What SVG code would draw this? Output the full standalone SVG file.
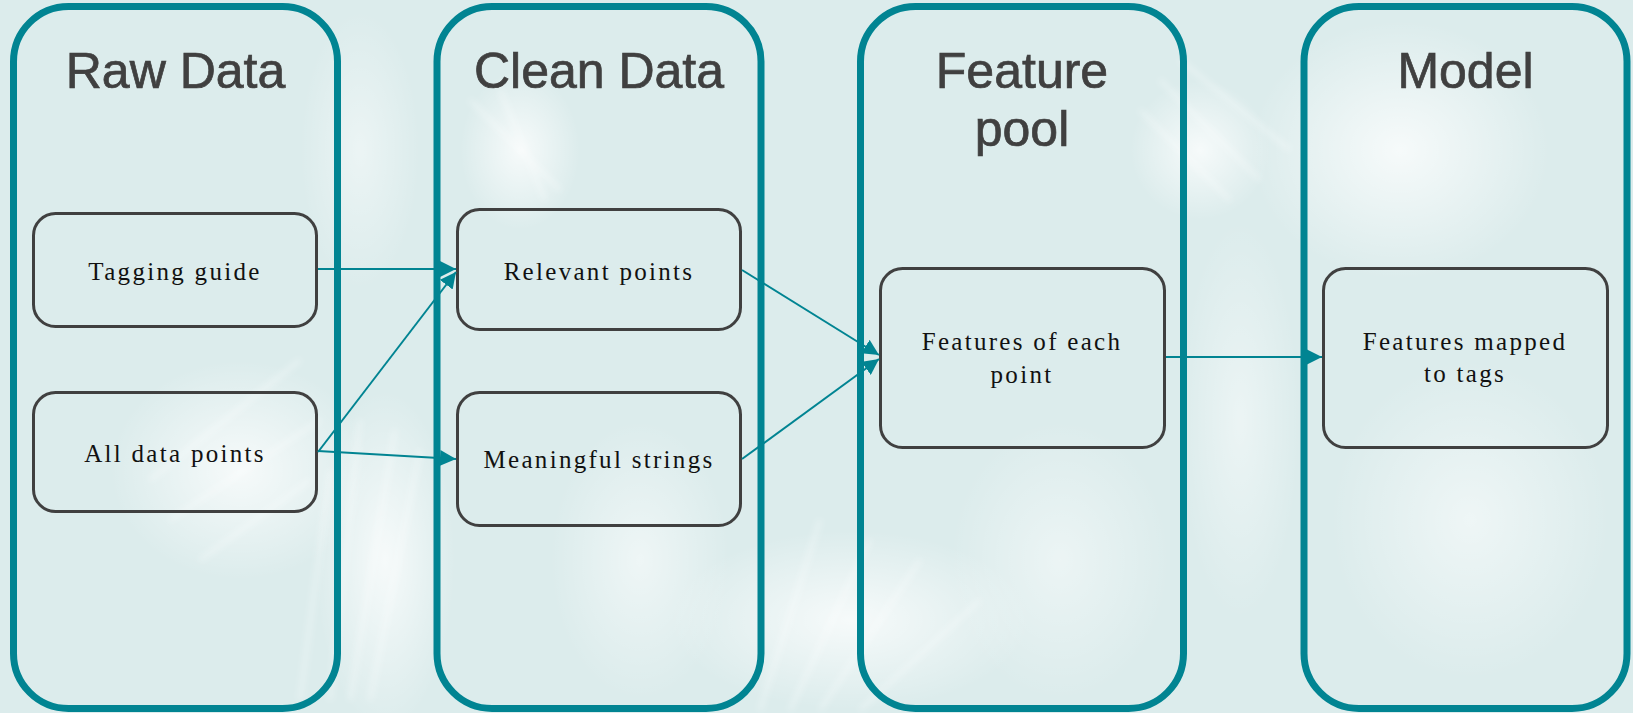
<svg xmlns="http://www.w3.org/2000/svg" width="1633" height="713" viewBox="0 0 1633 713">
  <defs>
    <style>
      .lane { fill: none; stroke: #018492; stroke-width: 7; }
      .title { font-family: "Liberation Sans", Arial, sans-serif; font-size: 50px; fill: #404040; stroke: #404040; stroke-width: 0.7; text-anchor: middle; }
      .box { fill: none; stroke: #404040; stroke-width: 3; }
      .label { font-family: "Liberation Serif", "Times New Roman", serif; font-size: 25px; letter-spacing: 2.3px; fill: #111; text-anchor: middle; }
      .link { fill: none; stroke: #018492; stroke-width: 2; }
    </style>
    <marker id="arrow" markerUnits="userSpaceOnUse" markerWidth="16" markerHeight="16" refX="16" refY="8" orient="auto">
      <path d="M0,0 L16,8 L0,16 z" fill="#018492"/>
    </marker>
    <radialGradient id="haze" cx="0.5" cy="0.5" r="0.5">
      <stop offset="0" stop-color="#ffffff" stop-opacity="0.75"/>
      <stop offset="1" stop-color="#ffffff" stop-opacity="0"/>
    </radialGradient>
    <filter id="soft" x="-20%" y="-20%" width="140%" height="140%">
      <feGaussianBlur stdDeviation="3"/>
    </filter>
  </defs>

  <!-- backdrop: pale teal with faded palm-frond highlights -->
  <rect x="0" y="0" width="1633" height="713" fill="#dcecec"/>
  <g id="backdrop">
    <ellipse cx="240" cy="470" rx="130" ry="110" fill="url(#haze)"/>
    <ellipse cx="385" cy="560" rx="70" ry="170" fill="url(#haze)"/>
    <ellipse cx="520" cy="150" rx="60" ry="80" fill="url(#haze)"/>
    <ellipse cx="1200" cy="150" rx="70" ry="70" fill="url(#haze)"/>
    <ellipse cx="1400" cy="150" rx="150" ry="130" fill="url(#haze)"/>
    <ellipse cx="1470" cy="520" rx="140" ry="160" fill="url(#haze)" opacity="0.7"/>
    <ellipse cx="850" cy="620" rx="180" ry="90" fill="url(#haze)"/>
    <ellipse cx="640" cy="560" rx="90" ry="140" fill="url(#haze)" opacity="0.7"/>
    <ellipse cx="1060" cy="560" rx="110" ry="140" fill="url(#haze)" opacity="0.6"/>
    <ellipse cx="360" cy="150" rx="60" ry="140" fill="url(#haze)" opacity="0.6"/>
    <ellipse cx="1240" cy="420" rx="60" ry="200" fill="url(#haze)" opacity="0.6"/>
    <g stroke="#ffffff" stroke-opacity="0.45" stroke-width="3" fill="none" filter="url(#soft)">
      <path d="M330,700 L360,420 M350,700 L395,430 M370,700 L420,450 M300,700 L330,470"/>
      <path d="M760,710 L820,520 M790,710 L870,540 M820,710 L920,560 M860,710 L980,600"/>
      <path d="M1160,80 L1260,180 M1180,60 L1290,150 M1140,110 L1230,200"/>
      <path d="M470,100 L560,190 M500,90 L545,200"/>
      <path d="M150,480 L300,360 M170,520 L320,420 M200,560 L310,480"/>
    </g>
  </g>

  <!-- stage columns -->
  <g id="col-raw">
    <rect class="lane" x="13.5" y="6.5" width="324" height="702" rx="55"/>
    <text class="title" x="175.5" y="88">Raw Data</text>
  </g>
  <g id="col-clean">
    <rect class="lane" x="437" y="6.5" width="324" height="702" rx="55"/>
    <text class="title" x="599" y="88">Clean Data</text>
  </g>
  <g id="col-feature">
    <rect class="lane" x="860.5" y="6.5" width="323" height="702" rx="55"/>
    <text class="title" x="1022" y="88">Feature</text>
    <text class="title" x="1022" y="146">pool</text>
  </g>
  <g id="col-model">
    <rect class="lane" x="1304" y="6.5" width="323" height="702" rx="55"/>
    <text class="title" x="1465.5" y="88">Model</text>
  </g>

  <!-- nodes -->
  <g id="tagging-guide">
    <rect class="box" x="33.5" y="213.5" width="283" height="113" rx="22"/>
    <text class="label" x="175" y="280">Tagging guide</text>
  </g>
  <g id="all-data-points">
    <rect class="box" x="33.5" y="392.5" width="283" height="119" rx="22"/>
    <text class="label" x="175" y="462">All data points</text>
  </g>
  <g id="relevant-points">
    <rect class="box" x="457.5" y="209.5" width="283" height="120" rx="22"/>
    <text class="label" x="599" y="280">Relevant points</text>
  </g>
  <g id="meaningful-strings">
    <rect class="box" x="457.5" y="392.5" width="283" height="133" rx="22"/>
    <text class="label" x="599" y="468">Meaningful strings</text>
  </g>
  <g id="features-of-each-point">
    <rect class="box" x="880.5" y="268.5" width="284" height="179" rx="22"/>
    <text class="label" x="1022" y="350">Features of each</text>
    <text class="label" x="1022" y="383">point</text>
  </g>
  <g id="features-mapped">
    <rect class="box" x="1323.5" y="268.5" width="284" height="179" rx="22"/>
    <text class="label" x="1465" y="350">Features mapped</text>
    <text class="label" x="1465" y="382">to tags</text>
  </g>

  <!-- connectors -->
  <g id="connectors">
    <line class="link" x1="318" y1="269" x2="456" y2="269" marker-end="url(#arrow)"/>
    <line class="link" x1="318" y1="452" x2="456" y2="272" marker-end="url(#arrow)"/>
    <line class="link" x1="318" y1="451" x2="456" y2="459" marker-end="url(#arrow)"/>
    <line class="link" x1="742" y1="270" x2="879" y2="355" marker-end="url(#arrow)"/>
    <line class="link" x1="742" y1="459" x2="879" y2="359" marker-end="url(#arrow)"/>
    <line class="link" x1="1166" y1="357" x2="1322" y2="357" marker-end="url(#arrow)"/>
  </g>
</svg>
